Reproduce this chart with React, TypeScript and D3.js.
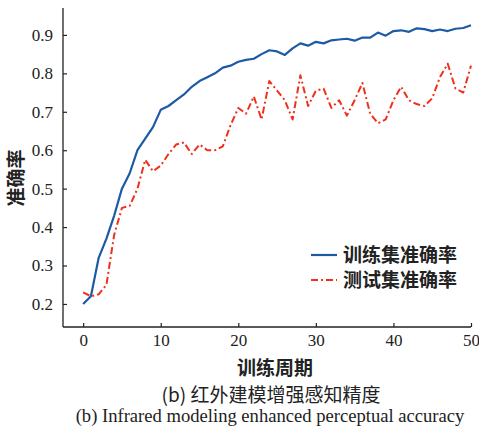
import React, { useEffect, useRef } from "react";
import * as d3 from "d3";

const epochs: number[] = Array.from({ length: 51 }, (_, i) => i);
const trainAcc: number[] = [
  0.20, 0.22, 0.32, 0.37, 0.43, 0.50, 0.54, 0.60, 0.63, 0.66,
  0.705, 0.715, 0.73, 0.745, 0.765, 0.78, 0.79, 0.80, 0.815, 0.82,
  0.83, 0.835, 0.838, 0.85, 0.86, 0.857, 0.848, 0.865, 0.878, 0.872,
  0.882, 0.878, 0.886, 0.888, 0.89, 0.885, 0.893, 0.893, 0.906, 0.898,
  0.91, 0.912, 0.908, 0.917, 0.915, 0.91, 0.914, 0.91, 0.916, 0.918, 0.925,
];
const testAcc: number[] = [
  0.23, 0.22, 0.225, 0.25, 0.38, 0.45, 0.455, 0.50, 0.575, 0.545,
  0.56, 0.59, 0.615, 0.62, 0.59, 0.615, 0.60, 0.60, 0.61, 0.665,
  0.71, 0.695, 0.74, 0.68, 0.78, 0.755, 0.73, 0.68, 0.795, 0.715,
  0.755, 0.76, 0.71, 0.73, 0.69, 0.73, 0.775, 0.695, 0.67, 0.68,
  0.73, 0.765, 0.73, 0.72, 0.715, 0.735, 0.79, 0.825, 0.76, 0.75, 0.82,
];
const xTicks: number[] = [0, 10, 20, 30, 40, 50];
const yTicks: number[] = [0.2, 0.3, 0.4, 0.5, 0.6, 0.7, 0.8, 0.9];
const seriesNames: string[] = ["训练集准确率", "测试集准确率"];
const xTitle = "训练周期";
const yTitle = "准确率";
const captionZh = "(b) 红外建模增强感知精度";
const captionEn = "(b) Infrared modeling enhanced perceptual accuracy";

const W = 479;
const H = 431;
const BLUE = "#1c5aa6";
const RED = "#f0301c";
const SERIF = "'Liberation Serif', 'Times New Roman', serif";
const CJK = "'Noto Sans CJK SC', 'Noto Sans', sans-serif";

export default function App() {
  const ref = useRef<SVGSVGElement | null>(null);

  useEffect(() => {
    const svg = d3.select(ref.current);
    svg.selectAll("*").remove();

    const x = d3.scaleLinear().domain([-2.6, 50]).range([63, 471]);
    const y = d3.scaleLinear().domain([0.14, 0.97]).range([327, 8]);

    const xAxis = d3
      .axisBottom(x)
      .tickValues(xTicks)
      .tickFormat(d3.format("d") as any)
      .tickSizeInner(-4)
      .tickSizeOuter(0)
      .tickPadding(7);
    const yAxis = d3
      .axisLeft(y)
      .tickValues(yTicks)
      .tickFormat(d3.format(".1f") as any)
      .tickSizeInner(-4)
      .tickSizeOuter(0)
      .tickPadding(10);

    const gx = svg.append("g").attr("transform", "translate(0,327)").call(xAxis);
    const gy = svg.append("g").attr("transform", "translate(63,0)").call(yAxis);
    [gx, gy].forEach((g) => {
      g.attr("font-family", SERIF).attr("font-size", 17);
      g.select(".domain").attr("stroke", "#222").attr("stroke-width", 1.3);
      g.selectAll(".tick line").attr("stroke", "#222").attr("stroke-width", 1.2);
      g.selectAll(".tick text")
        .attr("fill", "#222")
        .attr("font-family", SERIF)
        .style("font-family", SERIF)
        .style("font-size", "17px");
    });
    gx.select(".domain").attr("d", "M63,0H471");
    gy.select(".domain").attr("d", "M0,8V327");

    const line = d3
      .line<number>()
      .x((_, i) => x(epochs[i]))
      .y((d) => y(d));

    svg
      .append("path")
      .datum(trainAcc)
      .attr("d", line)
      .attr("fill", "none")
      .attr("stroke", BLUE)
      .attr("stroke-width", 2.2)
      .attr("stroke-linejoin", "round");

    svg
      .append("path")
      .datum(testAcc)
      .attr("d", line)
      .attr("fill", "none")
      .attr("stroke", RED)
      .attr("stroke-width", 2)
      .attr("stroke-dasharray", "7,3,2,3")
      .attr("stroke-linejoin", "round");

    // legend
    const legend = svg.append("g");
    const colors = [BLUE, RED];
    const dashes = ["none", "7,3,2,3"];
    seriesNames.forEach((name, i) => {
      const yy = 255 + i * 25;
      legend
        .append("line")
        .attr("x1", 311)
        .attr("x2", 337)
        .attr("y1", yy)
        .attr("y2", yy)
        .attr("stroke", colors[i])
        .attr("stroke-width", 2.2)
        .attr("stroke-dasharray", dashes[i]);
      legend
        .append("text")
        .attr("x", 343)
        .attr("y", yy)
        .attr("dy", "0.36em")
        .attr("fill", "#222")
        .style("font-family", CJK)
        .style("font-size", "19px")
        .style("font-weight", "600")
        .text(name);
    });

    svg
      .append("text")
      .attr("x", 275)
      .attr("y", 368)
      .attr("dy", "0.36em")
      .attr("text-anchor", "middle")
      .attr("fill", "#222")
      .style("font-family", CJK)
      .style("font-size", "19px")
      .style("font-weight", "600")
      .text(xTitle);

    svg
      .append("text")
      .attr("transform", "translate(16,178) rotate(-90)")
      .attr("dy", "0.36em")
      .attr("text-anchor", "middle")
      .attr("fill", "#222")
      .style("font-family", CJK)
      .style("font-size", "19px")
      .style("font-weight", "600")
      .text(yTitle);

    svg
      .append("text")
      .attr("x", 271)
      .attr("y", 395)
      .attr("dy", "0.36em")
      .attr("text-anchor", "middle")
      .attr("fill", "#222")
      .style("font-family", CJK)
      .style("font-size", "19px")
      .text(captionZh);

    svg
      .append("text")
      .attr("x", 270)
      .attr("y", 415)
      .attr("dy", "0.36em")
      .attr("text-anchor", "middle")
      .attr("fill", "#222")
      .style("font-family", SERIF)
      .style("font-size", "18.6px")
      .text(captionEn);
  }, []);

  return (
    <svg
      ref={ref}
      width={W}
      height={H}
      style={{ position: "absolute", left: 0, top: 0, background: "#fff" }}
    />
  );
}
